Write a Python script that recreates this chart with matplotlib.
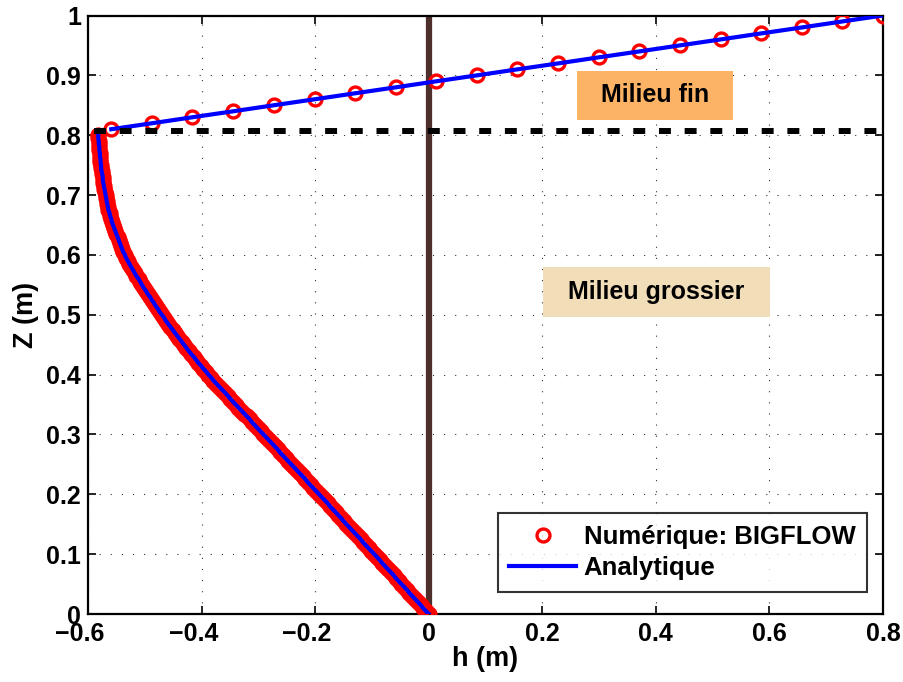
import matplotlib
matplotlib.use("Agg")
import matplotlib.pyplot as plt
from matplotlib.patches import Rectangle
from matplotlib.ticker import FuncFormatter
from matplotlib.transforms import ScaledTranslation

plt.rcParams['font.family'] = ['Liberation Sans', 'DejaVu Sans']
plt.rcParams['font.weight'] = 'bold'

# ---- data ----
# coarse medium (lower layer): elevation z and pressure head h
z_coarse = [0.000, 0.005, 0.010, 0.015, 0.020, 0.025, 0.030, 0.035, 0.040, 0.045,
            0.050, 0.055, 0.060, 0.065, 0.070, 0.075, 0.080, 0.085, 0.090, 0.095,
            0.100, 0.105, 0.110, 0.115, 0.120, 0.125, 0.130, 0.135, 0.140, 0.145,
            0.150, 0.155, 0.160, 0.165, 0.170, 0.175, 0.180, 0.185, 0.190, 0.195,
            0.200, 0.205, 0.210, 0.215, 0.220, 0.225, 0.230, 0.235, 0.240, 0.245,
            0.250, 0.255, 0.260, 0.265, 0.270, 0.275, 0.280, 0.285, 0.290, 0.295,
            0.300, 0.305, 0.310, 0.315, 0.320, 0.325, 0.330, 0.335, 0.340, 0.345,
            0.350, 0.355, 0.360, 0.365, 0.370, 0.375, 0.380, 0.385, 0.390, 0.395,
            0.400, 0.405, 0.410, 0.415, 0.420, 0.425, 0.430, 0.435, 0.440, 0.445,
            0.450, 0.455, 0.460, 0.465, 0.470, 0.475, 0.480, 0.485, 0.490, 0.495,
            0.500, 0.505, 0.510, 0.515, 0.520, 0.525, 0.530, 0.535, 0.540, 0.545,
            0.550, 0.555, 0.560, 0.565, 0.570, 0.575, 0.580, 0.585, 0.590, 0.595,
            0.600, 0.605, 0.610, 0.615, 0.620, 0.625, 0.630, 0.635, 0.640, 0.645,
            0.650, 0.655, 0.660, 0.665, 0.670, 0.675, 0.680, 0.685, 0.690, 0.695,
            0.700, 0.705, 0.710, 0.715, 0.720, 0.725, 0.730, 0.735, 0.740, 0.745,
            0.750, 0.755, 0.760, 0.765, 0.770, 0.775, 0.780, 0.785, 0.790, 0.795,
            0.800]
h_coarse = [0.000, -0.005, -0.010, -0.014, -0.019, -0.024, -0.029, -0.034, -0.038, -0.043,
            -0.048, -0.053, -0.058, -0.062, -0.067, -0.072, -0.077, -0.082, -0.086, -0.091,
            -0.096, -0.101, -0.106, -0.111, -0.116, -0.120, -0.125, -0.130, -0.135, -0.140,
            -0.145, -0.150, -0.154, -0.159, -0.164, -0.169, -0.174, -0.178, -0.183, -0.188,
            -0.193, -0.198, -0.203, -0.208, -0.213, -0.217, -0.222, -0.227, -0.232, -0.237,
            -0.242, -0.247, -0.252, -0.257, -0.262, -0.266, -0.271, -0.276, -0.281, -0.286,
            -0.291, -0.296, -0.301, -0.306, -0.311, -0.315, -0.320, -0.325, -0.330, -0.335,
            -0.340, -0.345, -0.350, -0.354, -0.359, -0.364, -0.369, -0.374, -0.379, -0.383,
            -0.388, -0.392, -0.397, -0.401, -0.406, -0.410, -0.414, -0.419, -0.423, -0.427,
            -0.431, -0.435, -0.439, -0.443, -0.447, -0.451, -0.455, -0.459, -0.463, -0.466,
            -0.470, -0.474, -0.477, -0.481, -0.484, -0.488, -0.491, -0.495, -0.498, -0.502,
            -0.505, -0.508, -0.511, -0.515, -0.518, -0.521, -0.524, -0.527, -0.530, -0.533,
            -0.535, -0.538, -0.540, -0.542, -0.544, -0.546, -0.548, -0.550, -0.552, -0.554,
            -0.556, -0.558, -0.559, -0.561, -0.562, -0.564, -0.565, -0.566, -0.567, -0.568,
            -0.569, -0.570, -0.571, -0.572, -0.573, -0.574, -0.574, -0.575, -0.576, -0.577,
            -0.577, -0.578, -0.578, -0.579, -0.579, -0.580, -0.580, -0.581, -0.581, -0.582,
            -0.582]

# fine medium (upper layer)
z_fine = [0.81, 0.82, 0.83, 0.84, 0.85, 0.86, 0.87, 0.88, 0.89, 0.90,
          0.91, 0.92, 0.93, 0.94, 0.95, 0.96, 0.97, 0.98, 0.99, 1.00]
h_fine = [-0.559, -0.487, -0.416, -0.344, -0.273, -0.201, -0.130, -0.058, 0.013, 0.085,
          0.156, 0.228, 0.299, 0.371, 0.442, 0.514, 0.585, 0.657, 0.728, 0.800]

interface_z = 0.807
xticks = [-0.6, -0.4, -0.2, 0, 0.2, 0.4, 0.6, 0.8]
yticks = [0, 0.1, 0.2, 0.3, 0.4, 0.5, 0.6, 0.7, 0.8, 0.9, 1.0]
label_num = 'Numérique: BIGFLOW'
label_ana = 'Analytique'
label_fine = 'Milieu fin'
label_coarse = 'Milieu grossier'

# ---- figure ----
fig = plt.figure(figsize=(9.04, 6.82), dpi=100)
ax = fig.add_axes([88/904, 1-614/682, 795/904, 598.5/682])

FS = 18
ax.grid(True, color='black', linestyle=(0, (1, 9)), linewidth=0.8, alpha=0.8)
ax.set_axisbelow(True)

# vertical reference line at h = 0
ax.plot([0, 0], [0, 1], color='#4E2F2C', linewidth=4.5, zorder=2, solid_capstyle='butt')

# numerical markers
mk = dict(marker='o', linestyle='none', markerfacecolor='none',
          markeredgecolor='#FF0000', markeredgewidth=2.4, markersize=9.3, zorder=3)
num_line, = ax.plot(h_coarse, z_coarse, label=label_num, **mk)
ax.plot(h_fine, z_fine, **mk)

# analytic lines
ana_line, = ax.plot(h_coarse, z_coarse, color='#0000FF', linewidth=3, zorder=4, label=label_ana)
ax.plot(h_fine, z_fine, color='#0000FF', linewidth=3, zorder=4)

# interface dashed line
ax.plot([-0.59, 0.8], [interface_z, interface_z], color='black', linewidth=4.3,
        linestyle=(0, (2.0, 2.3)), zorder=5, dash_capstyle='butt')

# text boxes
ax.add_patch(Rectangle((0.261, 0.825), 0.275, 0.083, facecolor='#FDB366',
                       edgecolor='none', zorder=2.5))
ax.text(0.3985, 0.8665, label_fine, ha='center', va='center', fontsize=FS,
        fontweight='bold', zorder=6)
ax.add_patch(Rectangle((0.201, 0.496), 0.400, 0.084, facecolor='#F2DDB9',
                       edgecolor='none', zorder=2.5))
ax.text(0.401, 0.538, label_coarse, ha='center', va='center', fontsize=FS,
        fontweight='bold', zorder=6)

ax.set_xlim(-0.6, 0.8)
ax.set_ylim(0, 1)
ax.set_xticks(xticks)
ax.set_yticks(yticks)
fmt = FuncFormatter(lambda v, p: ('%g' % round(v, 2)).replace('-', '\u2212'))
ax.xaxis.set_major_formatter(fmt)
ax.yaxis.set_major_formatter(fmt)
ax.tick_params(direction='in', length=6, width=1.2, top=True, right=True,
               labelsize=FS)
ax.tick_params(axis='x', pad=6)
ax.tick_params(axis='y', pad=5)
for lab in ax.get_xticklabels() + ax.get_yticklabels():
    lab.set_fontweight('bold')
for s in ax.spines.values():
    s.set_linewidth(1.6)

# negative x tick labels: digits centred on the tick, minus sign sticking out left
shift = ScaledTranslation(-8/100, 0, fig.dpi_scale_trans)
for t in ax.xaxis.get_major_ticks():
    if t.get_loc() < -1e-9:
        t.label1.set_transform(t.label1.get_transform() + shift)

ax.set_xlabel('h (m)', fontsize=19.5, fontweight='bold', labelpad=0)
ax.set_ylabel('Z (m)', fontsize=19.5, fontweight='bold', labelpad=5)

leg = ax.legend(handles=[num_line, ana_line], loc='lower right',
                bbox_to_anchor=(0.980, 0.037), borderaxespad=0,
                prop={'weight': 'bold', 'size': 18.5},
                frameon=True, fancybox=False, edgecolor='black',
                handlelength=2.6, handletextpad=0.3, labelspacing=0.3,
                borderpad=0.45)
leg.get_frame().set_linewidth(1.5)
leg.set_zorder(10)

fig.savefig('out.png', dpi=100)
